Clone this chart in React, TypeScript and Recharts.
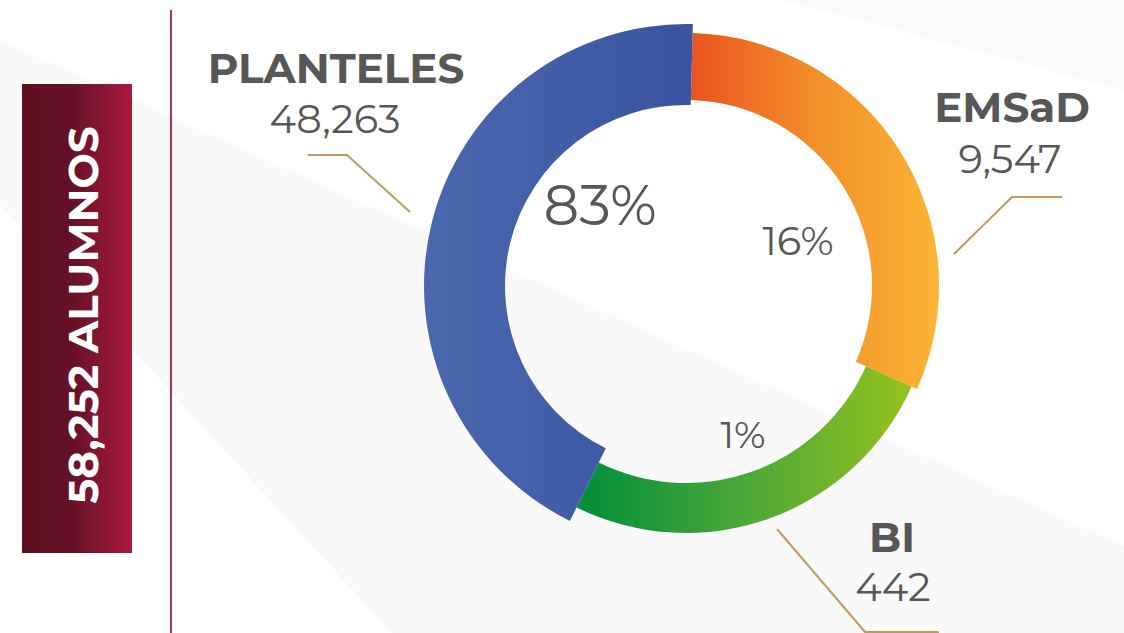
import React from 'react';
import { PieChart, Pie, Cell } from 'recharts';

// ---- data ----
const categories = ['EMSaD', 'BI', 'PLANTELES'];
const students = [9547, 442, 48263];
// angular size (degrees) each segment occupies in the infographic (drawn, not proportional)
const arcDegrees = [112.5, 92.3, 155.2];
const totalCaption = 'ALUMNOS';

const data = categories.map((name, i) => ({ name, value: students[i], arc: arcDegrees[i] }));
const total = students.reduce((a, b) => a + b, 0);
const fmt = (n: number) => n.toLocaleString('en-US');
const pct = (n: number) => Math.round((n / total) * 100) + '%';

// ---- layout / style ----
const W = 1124;
const H = 633;
const CX = 686;
const CY = 286;
const START = 88.5;
const FONT = 'Montserrat, "Open Sans", sans-serif';
const TXT = '#575757';
const GOLD = '#c29a5e';

const rings = [
  { inner: 186, outer: 253, grad: 'url(#gOrange)' },
  { inner: 197, outer: 247, grad: 'url(#gGreen)' },
  { inner: 181, outer: 262, grad: 'url(#gBlue)' },
];

const labelPos = [
  { nameX: 1012, nameY: 122, valX: 1010, valY: 173, pctX: 798, pctY: 255, pctSize: 40, leader: '1062,197 1012,197 954,254' },
  { nameX: 892, nameY: 552, valX: 893, valY: 601, pctX: 743, pctY: 448, pctSize: 38, leader: '777,529 865,632 939,632' },
  { nameX: 336, nameY: 83, valX: 335, valY: 133, pctX: 600, pctY: 225, pctSize: 56, leader: '308,155 347,155 410,212' },
];

const makeLabel = (k: number) => (props: any) => {
  const i = props.index;
  if (i !== k) return null;
  const p = labelPos[i];
  return (
    <g key={'lbl' + i}>
      <polyline points={p.leader} fill="none" stroke={GOLD} strokeWidth={2} />
      <text x={p.nameX} y={p.nameY} textAnchor="middle" fontFamily={FONT} fontWeight={700} fontSize={42} fill={TXT}>
        {categories[i]}
      </text>
      <text x={p.valX} y={p.valY} textAnchor="middle" fontFamily={FONT} fontWeight={400} fontSize={40} fill={TXT}>
        {fmt(students[i])}
      </text>
      <text x={p.pctX} y={p.pctY} textAnchor="middle" fontFamily={FONT} fontWeight={400} fontSize={p.pctSize} fill={TXT}>
        {pct(students[i])}
      </text>
    </g>
  );
};

export default function App() {
  return (
    <div style={{ position: 'absolute', left: 0, top: 0, width: W, height: H, background: '#fff', overflow: 'hidden' }}>
      <svg width={W} height={H} style={{ position: 'absolute', left: 0, top: 0 }}>
        <defs>
          <linearGradient id="gBlue" x1="0" y1="0" x2="1" y2="0">
            <stop offset="0" stopColor="#4b68ae" />
            <stop offset="1" stopColor="#3953a0" />
          </linearGradient>
          <linearGradient id="gOrange" x1="0" y1="0" x2="1" y2="0">
            <stop offset="0" stopColor="#e9531f" />
            <stop offset="0.5" stopColor="#f28f2a" />
            <stop offset="1" stopColor="#fbb535" />
          </linearGradient>
          <linearGradient id="gGreen" x1="0" y1="0" x2="1" y2="0">
            <stop offset="0" stopColor="#008d3b" />
            <stop offset="0.5" stopColor="#4aa838" />
            <stop offset="1" stopColor="#96c11f" />
          </linearGradient>
          <linearGradient id="gBox" x1="0" y1="0" x2="1" y2="0">
            <stop offset="0" stopColor="#5c101f" />
            <stop offset="0.45" stopColor="#651127" />
            <stop offset="1" stopColor="#aa1a3f" />
          </linearGradient>
        </defs>
        <polygon points="0,40 1124,546 1124,633 392,633 0,205" fill="#f9f9f9" />
        <polygon points="783,0 1124,0 1124,90" fill="#fafafa" />
        <rect x={22} y={84} width={110} height={469} fill="url(#gBox)" />
        <text
          x={0}
          y={0}
          transform="translate(98,315) rotate(-90)"
          textAnchor="middle"
          fontFamily={FONT}
          fontWeight={700}
          fontSize={42}
          fill="#fff"
        >
          {fmt(total)} {totalCaption}
        </text>
        <line x1={171} y1={10} x2={171} y2={633} stroke="#a8365a" strokeWidth={2} />
      </svg>
      <div style={{ position: 'absolute', left: 0, top: 0 }}>
        <PieChart width={W} height={H} margin={{ top: 0, right: 0, bottom: 0, left: 0 }}>
          {rings.map((r, k) => (
            <Pie
              key={k}
              data={data}
              dataKey="arc"
              nameKey="name"
              cx={CX}
              cy={CY}
              innerRadius={r.inner}
              outerRadius={r.outer}
              startAngle={START}
              endAngle={START - 360}
              paddingAngle={0}
              stroke="none"
              isAnimationActive={false}
              label={makeLabel(k)}
              labelLine={false}
            >
              {data.map((d, i) => (
                <Cell key={d.name} fill={i === k ? r.grad : 'none'} stroke="none" />
              ))}
            </Pie>
          ))}
        </PieChart>
      </div>
    </div>
  );
}
